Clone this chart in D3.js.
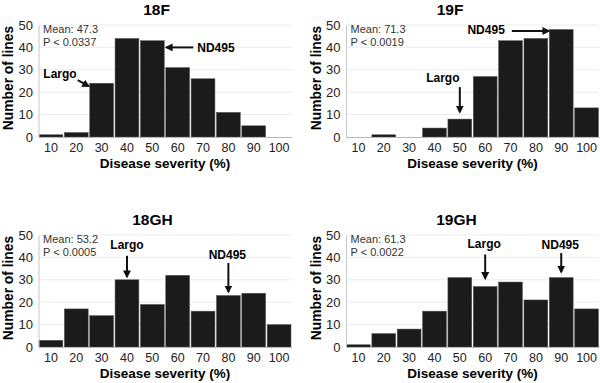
<!DOCTYPE html>
<html>
<head>
<meta charset="utf-8">
<script src="https://cdn.jsdelivr.net/npm/d3@7"></script>
<style>
  body { margin: 0; background: #fff; }
  svg { display: block; font-family: "Liberation Sans", Arial, sans-serif; }
  .tick text { fill: #222; }
</style>
</head>
<body>
<svg id="Vis" width="600" height="383"></svg>
<script>
/*
* DATA
*/

const severity = [10, 20, 30, 40, 50, 60, 70, 80, 90, 100];

const counts18F  = [1, 2, 24, 44, 43, 31, 26, 11, 5, 0];
const counts19F  = [0, 1, 0, 4, 8, 27, 43, 44, 48, 13];
const counts18GH = [3, 17, 14, 30, 19, 32, 16, 23, 24, 10];
const counts19GH = [1, 6, 8, 16, 31, 27, 29, 21, 31, 17];

const panelTitles = ["18F", "19F", "18GH", "19GH"];
const means = ["47.3", "71.3", "53.2", "61.3"];
const pValues = ["0.0337", "0.0019", "0.0005", "0.0022"];

// arrows: which bar each check cultivar points at
const notes18F  = [{label: "Largo", cat: 30}, {label: "ND495", cat: 50}];
const notes19F  = [{label: "Largo", cat: 50}, {label: "ND495", cat: 90}];
const notes18GH = [{label: "Largo", cat: 40}, {label: "ND495", cat: 80}];
const notes19GH = [{label: "Largo", cat: 60}, {label: "ND495", cat: 90}];

/*
* SETUP
*/

const svg = d3.select("svg#Vis");

const defs = svg.append("defs");
defs.append("marker")
  .attr("id", "head")
  .attr("viewBox", "0 0 10 10")
  .attr("refX", 8).attr("refY", 5)
  .attr("markerWidth", 4).attr("markerHeight", 4)
  .attr("markerUnits", "strokeWidth")
  .attr("orient", "auto")
  .append("path")
  .attr("d", "M0,0 L10,5 L0,10 Z")
  .attr("fill", "#111");

const x = d3.scaleBand()
  .domain(severity)
  .range([38.5, 291.5])
  .paddingInner(0.06)
  .paddingOuter(0.02);

const y = d3.scaleLinear()
  .domain([0, 50])
  .range([137, 25]);

// layout for the four panels and their arrows (kind, gap above bar, length)
const panels = [
  {counts: counts18F, ox: 0, oy: 0, tx: 156.5, notes: notes18F,
   style: [{kind: "diag"}, {kind: "left"}]},
  {counts: counts19F, ox: 307.5, oy: 0, tx: 142.5, notes: notes19F,
   style: [{kind: "down", gap: 7, len: 25, tdx: -17, tdy: -5}, {kind: "right"}]},
  {counts: counts18GH, ox: 0, oy: 210, tx: 152.5, notes: notes18GH,
   style: [{kind: "down", gap: 3, len: 21, tdx: 0, tdy: -7}, {kind: "down", gap: 3.5, len: 29, tdx: -1, tdy: -4}]},
  {counts: counts19GH, ox: 307.5, oy: 210, tx: 149, notes: notes19GH,
   style: [{kind: "down", gap: 8, len: 24, tdx: -1, tdy: -7}, {kind: "down", gap: 5.5, len: 19, tdx: -1, tdy: -4}]}
];

panels.forEach((p, i) => drawPanel(p, i));

/*
* PANEL DRAWING
*/

function drawPanel(p, i) {
  const g = svg.append("g").attr("transform", translate(p.ox, p.oy));

  /* grid */
  g.append("g").selectAll("line")
    .data(y.ticks(5).filter(d => d > 0))
    .join("line")
    .attr("x1", x.range()[0]).attr("x2", x.range()[1])
    .attr("y1", d => y(d)).attr("y2", d => y(d))
    .attr("stroke", "#ececec");

  /* bars */
  g.append("g").selectAll("rect")
    .data(severity.map((s, k) => ({s: s, v: p.counts[k]})))
    .join("rect")
    .attr("x", d => x(d.s))
    .attr("width", x.bandwidth())
    .attr("y", d => y(d.v))
    .attr("height", d => y(0) - y(d.v))
    .attr("fill", "#1b1b1b")
    .attr("stroke", "#555")
    .attr("stroke-width", 0.5);

  /* axes */
  const yAxis = g.append("g")
    .attr("transform", translate(x.range()[0], 0))
    .call(d3.axisLeft(y).ticks(5).tickSize(0).tickPadding(5.5));
  yAxis.select(".domain").attr("stroke", "#c8c8c8");
  yAxis.selectAll("text").attr("font-size", 13);

  const xAxis = g.append("g")
    .attr("transform", translate(0, y(0)))
    .call(d3.axisBottom(x).tickSize(0).tickPadding(6.5));
  xAxis.select(".domain").attr("stroke", "#b8b8b8");
  xAxis.selectAll("text").attr("font-size", 12.5);

  /* titles */
  g.append("text")
    .attr("x", p.tx).attr("y", 15)
    .attr("text-anchor", "middle")
    .attr("font-size", 15.5).attr("font-weight", "bold")
    .text(panelTitles[i]);

  g.append("text")
    .attr("x", (x.range()[0] + x.range()[1]) / 2).attr("y", 168)
    .attr("text-anchor", "middle")
    .attr("font-size", 13.5).attr("font-weight", "bold")
    .text("Disease severity (%)");

  g.append("text")
    .attr("transform", translate(13, 78) + " rotate(-90)")
    .attr("text-anchor", "middle")
    .attr("font-size", 13.8).attr("font-weight", "bold")
    .text("Number of lines");

  /* stats */
  const stats = g.append("text")
    .attr("x", 43).attr("y", 33)
    .attr("font-size", 11).attr("fill", "#333");
  stats.append("tspan").attr("x", 43).text("Mean: " + means[i]);
  stats.append("tspan").attr("x", 43).attr("dy", 13).text("P < " + pValues[i]);

  /* arrows */
  p.notes.forEach((n, k) => drawNote(g, p, n, p.style[k]));
}

function drawNote(g, p, n, st) {
  const v = p.counts[severity.indexOf(n.cat)];
  const cx = x(n.cat) + x.bandwidth() / 2;
  let x1, y1, x2, y2, tx, ty, anchor;

  if (st.kind === "down") {
    x1 = x2 = cx;
    y2 = y(v) - st.gap;
    y1 = y2 - st.len;
    tx = cx + st.tdx; ty = y1 + st.tdy;
    anchor = "middle";
  } else if (st.kind === "left") {
    x2 = x(n.cat) + x.bandwidth() + 2;
    x1 = x2 + 27;
    y1 = y2 = y(40);
    tx = x1 + 4; ty = y1 + 4.5;
    anchor = "start";
  } else if (st.kind === "right") {
    x2 = x(n.cat) - 0.5;
    x1 = x2 - 37;
    y1 = y2 = y(v) + 1.5;
    tx = x1 - 7; ty = y1 + 3.5;
    anchor = "end";
  } else {
    x2 = x(n.cat) - 1;
    y2 = y(v) + 3;
    x1 = x2 - 11; y1 = y2 - 6;
    tx = x1 - 1; ty = y1 - 2;
    anchor = "end";
  }

  g.append("line")
    .attr("x1", x1).attr("y1", y1)
    .attr("x2", x2).attr("y2", y2)
    .attr("stroke", "#111")
    .attr("stroke-width", 2)
    .attr("marker-end", "url(#head)");

  g.append("text")
    .attr("x", tx).attr("y", ty)
    .attr("text-anchor", anchor)
    .attr("font-size", 12).attr("font-weight", "bold")
    .text(n.label);
}

/*
* HELPER FUNCTIONS
*/

function translate(x, y) {
  return "translate(" + String(x) + "," + String(y) + ")";
}
</script>
</body>
</html>
